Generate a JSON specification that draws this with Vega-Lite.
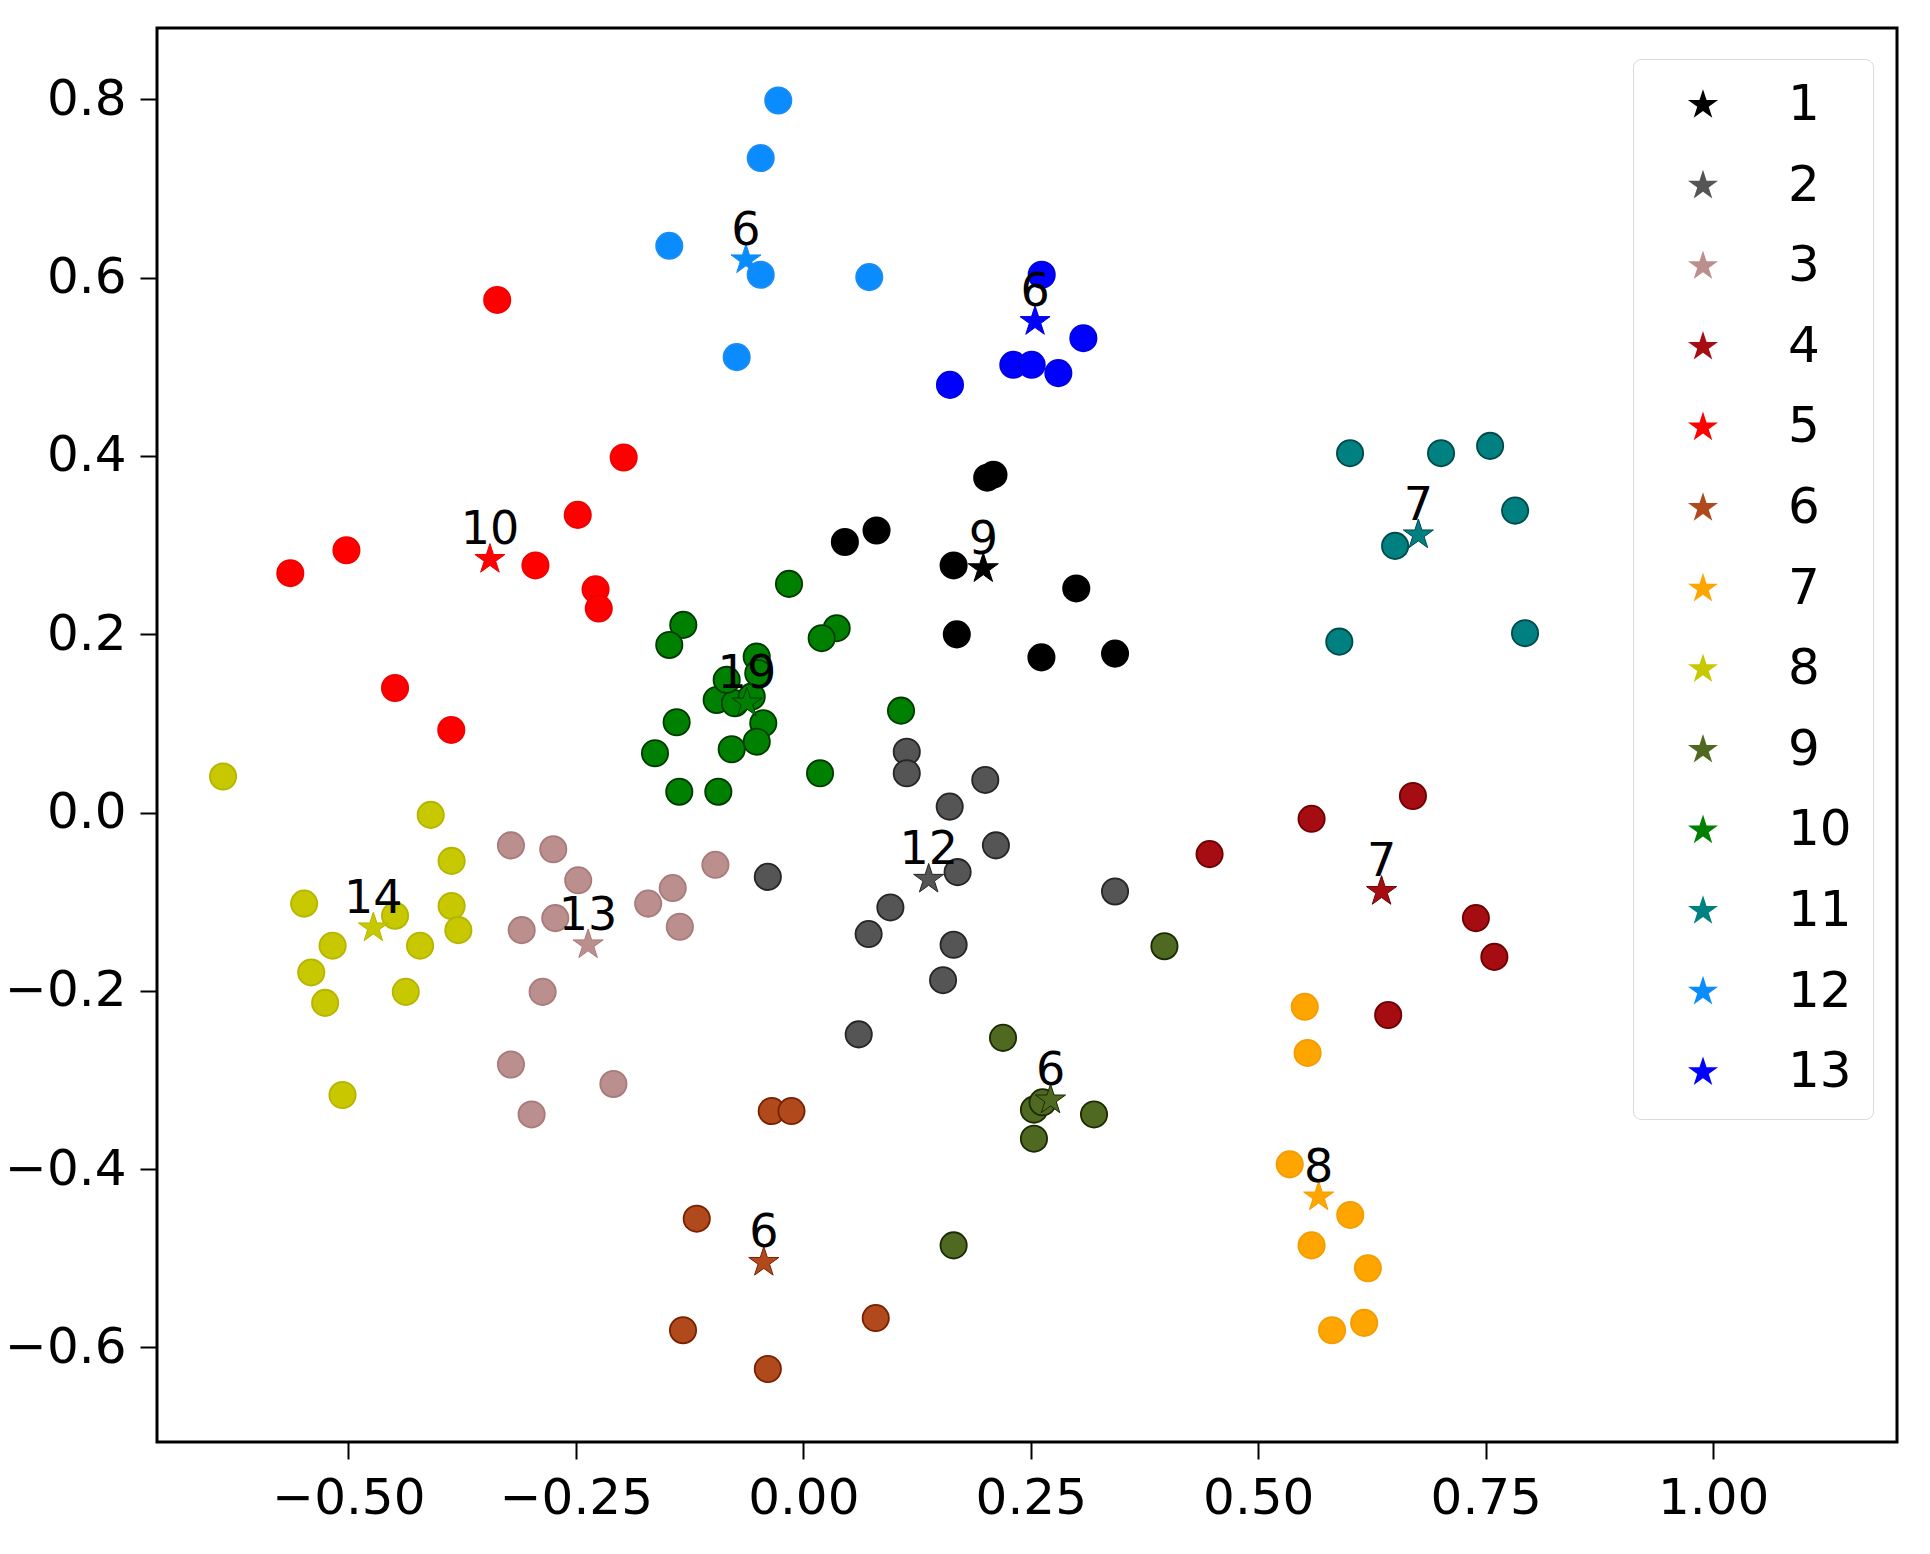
{
  "$schema": "https://vega.github.io/schema/vega-lite/v6.json",
  "autosize": {"type": "none"},
  "padding": {"left": 157, "top": 28, "right": 33, "bottom": 112},
  "width": 1740,
  "height": 1414,
  "background": "white",
  "config": {
    "view": {"stroke": "black", "strokeWidth": 3},
    "axis": {
      "title": null, "grid": false, "domain": false,
      "tickColor": "black", "tickWidth": 2, "tickSize": 17,
      "labelFont": "DejaVu Sans", "labelFontSize": 50, "labelColor": "black",
      "labelPadding": 14, "labelOverlap": false, "labelFlush": false
    },
    "legend": {
      "orient": "none", "legendX": 1476, "legendY": 31,
      "labelFont": "DejaVu Sans", "labelFontSize": 50, "labelColor": "black",
      "symbolType": "M0,-1L0.2245,-0.309L0.9511,-0.309L0.3633,0.118L0.5878,0.809L0,0.382L-0.5878,0.809L-0.3633,0.118L-0.9511,-0.309L-0.2245,-0.309Z",
      "symbolSize": 1000, "symbolStrokeWidth": 0, "symbolOpacity": 1,
      "rowPadding": 30.6, "padding": 21, "labelOffset": 60, "symbolOffset": 24,
      "strokeColor": "#d9d9d9", "fillColor": "white", "cornerRadius": 8
    }
  },
  "datasets": {
    "pts": [
      {"x": 0.2021, "y": 0.3756, "c": "1"},
      {"x": 0.209, "y": 0.379, "c": "1"},
      {"x": 0.0805, "y": 0.3164, "c": "1"},
      {"x": 0.0457, "y": 0.3035, "c": "1"},
      {"x": 0.1652, "y": 0.2772, "c": "1"},
      {"x": 0.3, "y": 0.2514, "c": "1"},
      {"x": 0.1687, "y": 0.1999, "c": "1"},
      {"x": 0.2617, "y": 0.1741, "c": "1"},
      {"x": 0.3426, "y": 0.1783, "c": "1"},

      {"x": 0.1137, "y": 0.0683, "c": "2"},
      {"x": 0.1137, "y": 0.0441, "c": "2"},
      {"x": 0.2, "y": 0.0366, "c": "2"},
      {"x": 0.1609, "y": 0.0067, "c": "2"},
      {"x": 0.2117, "y": -0.0368, "c": "2"},
      {"x": 0.1696, "y": -0.0668, "c": "2"},
      {"x": 0.0957, "y": -0.1064, "c": "2"},
      {"x": 0.0718, "y": -0.1363, "c": "2"},
      {"x": 0.1652, "y": -0.1483, "c": "2"},
      {"x": 0.1536, "y": -0.188, "c": "2"},
      {"x": 0.0609, "y": -0.2488, "c": "2"},
      {"x": 0.3426, "y": -0.0885, "c": "2"},
      {"x": -0.039, "y": -0.0721, "c": "2"},

      {"x": -0.3213, "y": -0.0368, "c": "3"},
      {"x": -0.2748, "y": -0.0412, "c": "3"},
      {"x": -0.2474, "y": -0.076, "c": "3"},
      {"x": -0.0966, "y": -0.0586, "c": "3"},
      {"x": -0.1435, "y": -0.0847, "c": "3"},
      {"x": -0.1705, "y": -0.1021, "c": "3"},
      {"x": -0.1357, "y": -0.1281, "c": "3"},
      {"x": -0.2726, "y": -0.1184, "c": "3"},
      {"x": -0.3095, "y": -0.1319, "c": "3"},
      {"x": -0.2865, "y": -0.2011, "c": "3"},
      {"x": -0.3213, "y": -0.2826, "c": "3"},
      {"x": -0.2087, "y": -0.3044, "c": "3"},
      {"x": -0.2986, "y": -0.3386, "c": "3"},

      {"x": 0.67, "y": 0.0186, "c": "4"},
      {"x": 0.7392, "y": -0.1184, "c": "4"},
      {"x": 0.7595, "y": -0.1619, "c": "4"},
      {"x": 0.6428, "y": -0.2271, "c": "4"},
      {"x": 0.5586, "y": -0.007, "c": "4"},
      {"x": 0.4465, "y": -0.0466, "c": "4"},

      {"x": -0.3364, "y": 0.575, "c": "5"},
      {"x": -0.1974, "y": 0.3983, "c": "5"},
      {"x": -0.2479, "y": 0.3339, "c": "5"},
      {"x": -0.5021, "y": 0.2942, "c": "5"},
      {"x": -0.5638, "y": 0.2685, "c": "5"},
      {"x": -0.2944, "y": 0.2772, "c": "5"},
      {"x": -0.2283, "y": 0.2504, "c": "5"},
      {"x": -0.2248, "y": 0.2288, "c": "5"},
      {"x": -0.4487, "y": 0.1397, "c": "5"},
      {"x": -0.3869, "y": 0.0927, "c": "5"},

      {"x": -0.0347, "y": -0.3348, "c": "6"},
      {"x": -0.013, "y": -0.3348, "c": "6"},
      {"x": 0.0796, "y": -0.567, "c": "6"},
      {"x": -0.039, "y": -0.6241, "c": "6"},
      {"x": -0.1171, "y": -0.4555, "c": "6"},
      {"x": -0.1322, "y": -0.5806, "c": "6"},

      {"x": 0.5511, "y": -0.2179, "c": "7"},
      {"x": 0.5542, "y": -0.2696, "c": "7"},
      {"x": 0.5346, "y": -0.3946, "c": "7"},
      {"x": 0.6011, "y": -0.4513, "c": "7"},
      {"x": 0.5586, "y": -0.4855, "c": "7"},
      {"x": 0.5811, "y": -0.5806, "c": "7"},
      {"x": 0.6205, "y": -0.5111, "c": "7"},
      {"x": 0.6164, "y": -0.5724, "c": "7"},

      {"x": -0.6377, "y": 0.0404, "c": "8"},
      {"x": -0.4095, "y": -0.0026, "c": "8"},
      {"x": -0.3865, "y": -0.0542, "c": "8"},
      {"x": -0.3865, "y": -0.1048, "c": "8"},
      {"x": -0.3791, "y": -0.1319, "c": "8"},
      {"x": -0.5486, "y": -0.1021, "c": "8"},
      {"x": -0.4487, "y": -0.1157, "c": "8"},
      {"x": -0.5173, "y": -0.1493, "c": "8"},
      {"x": -0.4212, "y": -0.1493, "c": "8"},
      {"x": -0.5408, "y": -0.1793, "c": "8"},
      {"x": -0.5255, "y": -0.2135, "c": "8"},
      {"x": -0.4369, "y": -0.2011, "c": "8"},
      {"x": -0.5064, "y": -0.3168, "c": "8"},

      {"x": 0.3969, "y": -0.1499, "c": "9"},
      {"x": 0.2195, "y": -0.2527, "c": "9"},
      {"x": 0.3195, "y": -0.3386, "c": "9"},
      {"x": 0.2535, "y": -0.3332, "c": "9"},
      {"x": 0.2535, "y": -0.3658, "c": "9"},
      {"x": 0.263, "y": -0.325, "c": "9"},
      {"x": 0.1652, "y": -0.4855, "c": "9"},

      {"x": -0.0157, "y": 0.2565, "c": "10"},
      {"x": -0.1319, "y": 0.2105, "c": "10"},
      {"x": -0.1473, "y": 0.188, "c": "10"},
      {"x": 0.0367, "y": 0.2068, "c": "10"},
      {"x": 0.0202, "y": 0.1956, "c": "10"},
      {"x": -0.0512, "y": 0.1749, "c": "10"},
      {"x": -0.0952, "y": 0.1263, "c": "10"},
      {"x": -0.0751, "y": 0.1226, "c": "10"},
      {"x": -0.0567, "y": 0.13, "c": "10"},
      {"x": -0.0495, "y": 0.1563, "c": "10"},
      {"x": -0.0842, "y": 0.1488, "c": "10"},
      {"x": 0.1074, "y": 0.1143, "c": "10"},
      {"x": -0.1392, "y": 0.1013, "c": "10"},
      {"x": -0.044, "y": 0.1002, "c": "10"},
      {"x": -0.0512, "y": 0.0795, "c": "10"},
      {"x": -0.0787, "y": 0.071, "c": "10"},
      {"x": -0.163, "y": 0.0665, "c": "10"},
      {"x": 0.0184, "y": 0.0441, "c": "10"},
      {"x": -0.1363, "y": 0.0234, "c": "10"},
      {"x": -0.0934, "y": 0.0234, "c": "10"},

      {"x": 0.6009, "y": 0.4031, "c": "11"},
      {"x": 0.7009, "y": 0.4031, "c": "11"},
      {"x": 0.7548, "y": 0.4113, "c": "11"},
      {"x": 0.7823, "y": 0.3387, "c": "11"},
      {"x": 0.6504, "y": 0.2991, "c": "11"},
      {"x": 0.5891, "y": 0.1917, "c": "11"},
      {"x": 0.7932, "y": 0.2012, "c": "11"},

      {"x": -0.0275, "y": 0.7987, "c": "12"},
      {"x": -0.0468, "y": 0.7341, "c": "12"},
      {"x": -0.1473, "y": 0.6357, "c": "12"},
      {"x": -0.0468, "y": 0.6032, "c": "12"},
      {"x": 0.0725, "y": 0.6006, "c": "12"},
      {"x": -0.0732, "y": 0.5108, "c": "12"},

      {"x": 0.262, "y": 0.6032, "c": "13"},
      {"x": 0.3078, "y": 0.5321, "c": "13"},
      {"x": 0.2308, "y": 0.5022, "c": "13"},
      {"x": 0.251, "y": 0.5022, "c": "13"},
      {"x": 0.2803, "y": 0.4929, "c": "13"},
      {"x": 0.1612, "y": 0.4797, "c": "13"}
    ],
    "stars": [
      {"x": 0.1978, "y": 0.2736, "c": "1", "t": "9"},
      {"x": 0.1378, "y": -0.0748, "c": "2", "t": "12"},
      {"x": -0.2365, "y": -0.1483, "c": "3", "t": "13"},
      {"x": 0.6355, "y": -0.0885, "c": "4", "t": "7"},
      {"x": -0.3444, "y": 0.284, "c": "5", "t": "10"},
      {"x": -0.0434, "y": -0.5045, "c": "6", "t": "6"},
      {"x": 0.5664, "y": -0.4311, "c": "7", "t": "8"},
      {"x": -0.4725, "y": -0.1293, "c": "8", "t": "14"},
      {"x": 0.2717, "y": -0.3223, "c": "9", "t": "6"},
      {"x": -0.062, "y": 0.123, "c": "10", "t": "19"},
      {"x": 0.676, "y": 0.3115, "c": "11", "t": "7"},
      {"x": -0.063, "y": 0.62, "c": "12", "t": "6"},
      {"x": 0.2547, "y": 0.5508, "c": "13", "t": "6"}
    ]
  },
  "encoding": {
    "x": {"field": "x", "type": "quantitative",
      "scale": {"domain": [-0.7103, 1.202], "nice": false, "zero": false},
      "axis": {"values": [-0.5, -0.25, 0, 0.25, 0.5, 0.75, 1], "format": ".2f"}},
    "y": {"field": "y", "type": "quantitative",
      "scale": {"domain": [-0.706, 0.88], "nice": false, "zero": false},
      "axis": {"values": [-0.6, -0.4, -0.2, 0, 0.2, 0.4, 0.6, 0.8], "format": ".1f"}}
  },
  "layer": [
    {
      "data": {"name": "pts"},
      "mark": {"type": "circle", "size": 690, "opacity": 1, "strokeWidth": 1.8},
      "encoding": {
        "color": {"field": "c", "type": "nominal",
          "scale": {"domain": ["1","2","3","4","5","6","7","8","9","10","11","12","13"],
            "range": ["#000000","#555555","#bc8f8f","#a50d12","#ff0000","#b04a1c","#ffa500","#c8c800","#4f6a20","#008000","#008080","#0a8cff","#0000ff"]},
          "legend": {"title": null}},
        "stroke": {"field": "c", "type": "nominal",
          "scale": {"domain": ["1","2","3","4","5","6","7","8","9","10","11","12","13"],
            "range": ["#000000","#262626","#a87a7a","#6e0000","#f00000","#7a2000","#f59d00","#b5b500","#1a2a05","#003a00","#004a4a","#1a8cf5","#0000e0"]},
          "legend": null}
      }
    },
    {
      "data": {"name": "stars"},
      "mark": {"type": "point", "filled": true, "opacity": 1, "size": 1000, "strokeWidth": 1,
        "shape": "M0,-1L0.2245,-0.309L0.9511,-0.309L0.3633,0.118L0.5878,0.809L0,0.382L-0.5878,0.809L-0.3633,0.118L-0.9511,-0.309L-0.2245,-0.309Z"},
      "encoding": {
        "color": {"field": "c", "type": "nominal", "legend": {"title": null}},
        "stroke": {"field": "c", "type": "nominal", "legend": null}
      }
    },
    {
      "data": {"name": "stars"},
      "mark": {"type": "text", "font": "DejaVu Sans", "fontSize": 46, "color": "black",
        "align": "center", "baseline": "alphabetic", "dy": -15},
      "encoding": {"text": {"field": "t", "type": "nominal"}}
    }
  ]
}
